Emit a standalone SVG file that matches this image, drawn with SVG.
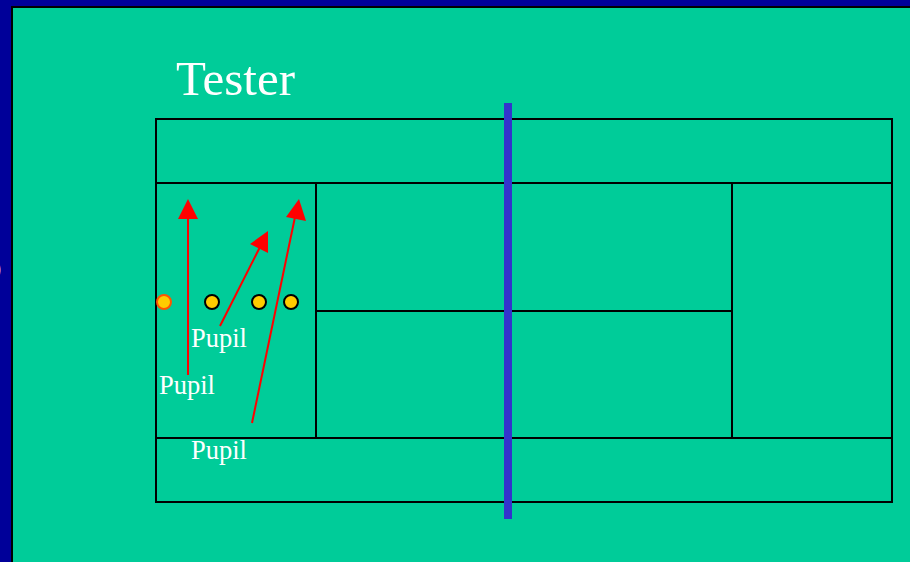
<svg xmlns="http://www.w3.org/2000/svg" width="910" height="562" viewBox="0 0 910 562">
<defs>
<style>
.court{fill:none;stroke:#000;stroke-width:2}
.lbl{font-family:"Liberation Serif",serif;fill:#fff}
.arr{stroke:#f00;stroke-width:2;fill:none}
.head{fill:#f00}
.ball{fill:#fc0;stroke:#000;stroke-width:2}
</style>
</defs>
<rect x="0" y="0" width="910" height="562" fill="#000099"/>
<rect x="12" y="7" width="900" height="558" fill="#00CC99" stroke="#000" stroke-width="2"/>
<text class="lbl" x="-9" y="277" font-size="20">0</text>
<g id="court">
<rect class="court" x="156" y="119" width="736" height="383"/>
<line class="court" x1="156" y1="183" x2="892" y2="183"/>
<line class="court" x1="156" y1="438" x2="892" y2="438"/>
<line class="court" x1="316" y1="183" x2="316" y2="438"/>
<line class="court" x1="732" y1="183" x2="732" y2="438"/>
<line class="court" x1="316" y1="311" x2="732" y2="311"/>
</g>
<g id="net"><rect x="504" y="103" width="8" height="416" fill="#3333CC"/></g>
<g id="title"><text class="lbl" x="176" y="95" font-size="49">Tester</text></g>
<g id="balls">
<circle cx="164" cy="302" r="7" fill="#fc0" stroke="#FF5500" stroke-width="2"/>
<circle class="ball" cx="212" cy="302" r="7"/>
<circle class="ball" cx="259" cy="302" r="7"/>
<circle class="ball" cx="291" cy="302" r="7"/>
</g>
<g id="connectors">
<line class="arr" x1="188" y1="375" x2="188" y2="216"/>
<polygon class="head" points="188,199 178,219 198,219"/>
<line class="arr" x1="220" y1="326" x2="260" y2="247"/>
<polygon class="head" points="268,231 250,244 268,253"/>
<line class="arr" x1="252" y1="423" x2="295" y2="217"/>
<polygon class="head" points="299,199 286,217 306,221"/>
</g>
<g id="pupils">
<text class="lbl" x="191" y="347" font-size="26.5">Pupil</text>
<text class="lbl" x="159" y="394" font-size="26.5">Pupil</text>
<text class="lbl" x="191" y="459" font-size="26.5">Pupil</text>
</g>
</svg>
